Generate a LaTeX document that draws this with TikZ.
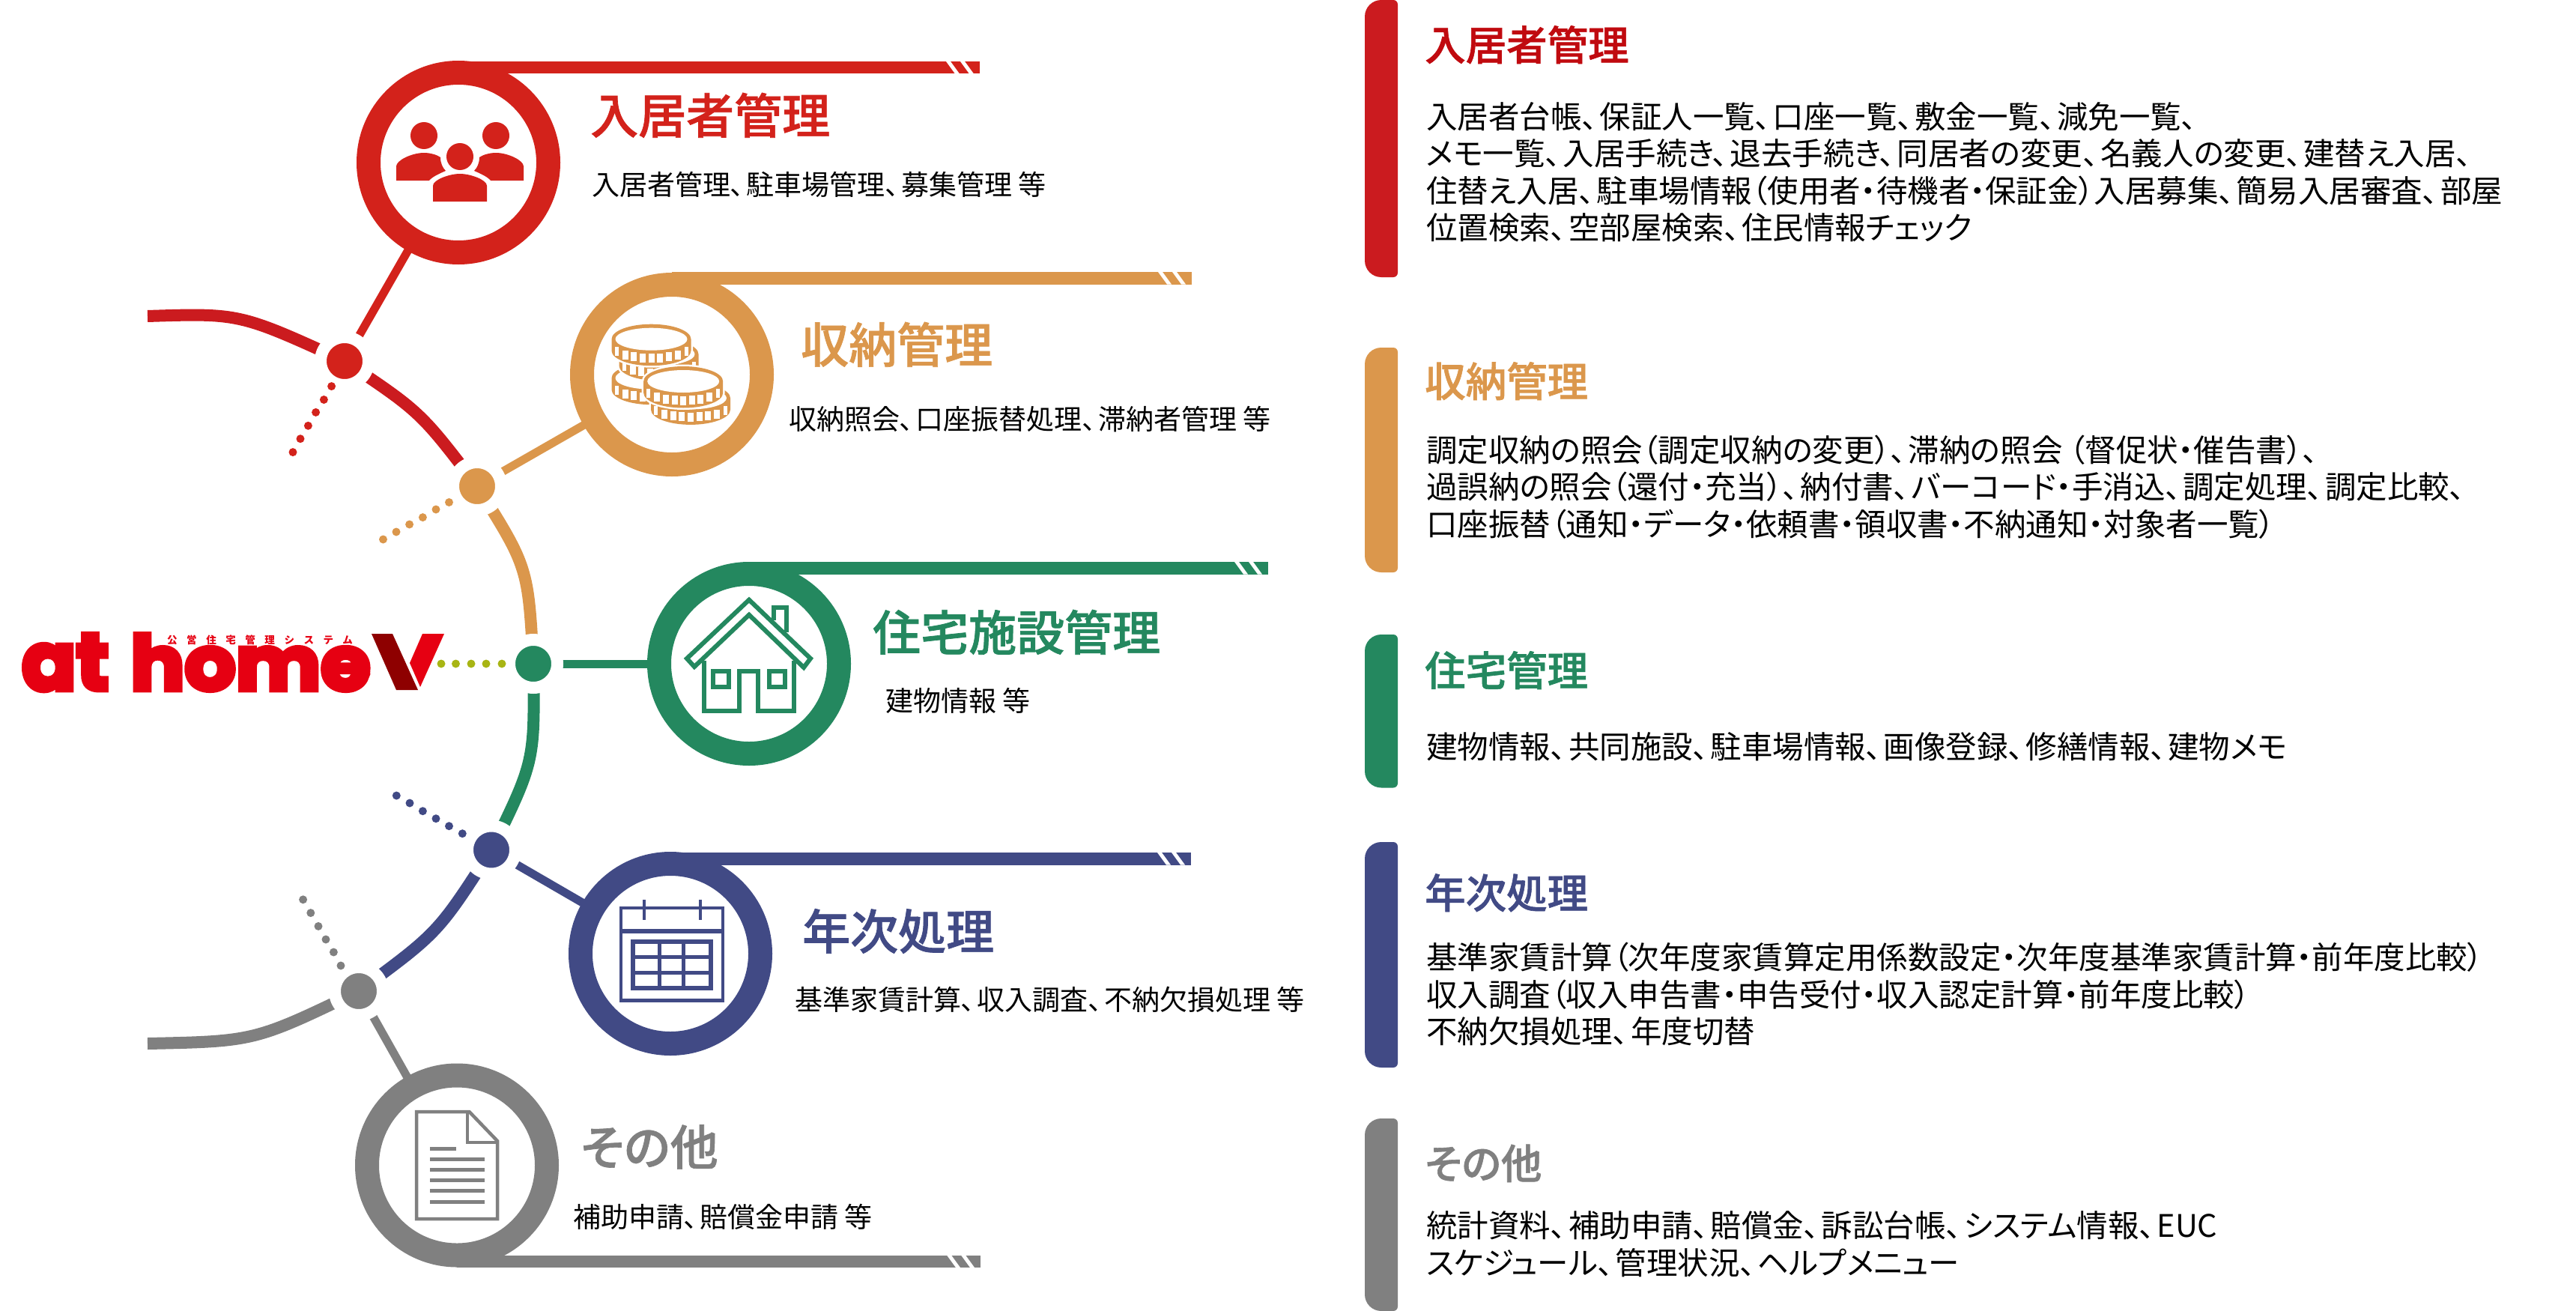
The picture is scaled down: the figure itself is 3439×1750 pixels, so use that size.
\documentclass[tikz,border=0pt]{standalone}
\usepackage{fontspec}
\usetikzlibrary{backgrounds}
\setmainfont{Noto Sans CJK JP}[RawFeature={+palt}]
\newfontfamily\titlefont{Noto Sans CJK JP Medium}[RawFeature={+palt},FakeBold=1.1]
\newfontfamily\logofont{Poppins}[FakeBold=6]
\newfontfamily\plaincjk{Noto Sans CJK JP}
\catcode`、=\active
\def、{\char"3001\kern3pt\relax}
\definecolor{cred}{HTML}{D3221B}
\definecolor{credb}{HTML}{CB1B1F}
\definecolor{credt}{HTML}{C00A0F}
\definecolor{corange}{HTML}{DB974C}
\definecolor{cgreen}{HTML}{24885F}
\definecolor{cnavy}{HTML}{414A85}
\definecolor{cgray}{HTML}{808080}
\definecolor{colive}{HTML}{A8B514}
\definecolor{clogo}{HTML}{E60012}
\definecolor{clogod}{HTML}{8E0000}
\newcommand{\bl}{\rule{0pt}{.88em}}
\newcommand{\tailbar}[4]{%
  \fill[#4] (#1,#2) rectangle (#3,#2+16.5);
  \fill[white] ({#3-45},#2) -- ({#3-39},#2) -- ({#3-27},#2+16.5) -- ({#3-33},#2+16.5) -- cycle;
  \fill[white] ({#3-26},#2) -- ({#3-20},#2) -- ({#3-8},#2+16.5) -- ({#3-14},#2+16.5) -- cycle;
}
\newcommand{\sidebar}[3]{%
  \fill[#3] (1844,#1) -- (1860,#1) arc (-90:0:6) -- (1866,#2-6) arc (0:90:6) -- (1844,#2) arc (90:180:22) -- (1822,#1+22) arc (180:270:22) -- cycle;
}
\newcommand{\coinicon}[2]{%
  \begin{scope}[shift={(#1,#2)}]
    \fill[corange, preaction={draw=white,line width=5pt}] (53,0) -- (53,15.5) arc (0:180:53 and 20) -- (-53,0) arc (180:360:53 and 20) -- cycle;
    \fill[white] (0,0) ellipse (48 and 15);
    \foreach \dx in {-46.5,-35,-23.2,-11.6,0,11.6,23.2,35,46.5}{%
      \pgfmathsetmacro{\cy}{9+16.5*sqrt(1-(\dx/52)^2)}
      \pgfmathsetmacro{\hw}{abs(\dx)>40?2.5:4}
      \fill[white] ({\dx-\hw},{\cy-6}) rectangle ({\dx+\hw},{\cy+6});
    }
  \end{scope}
}
\tikzset{
  bigring/.style={circle,draw=#1,fill=white,line width=32pt,minimum size=240pt,inner sep=0pt,outer sep=0pt},
  hub/.style={circle,draw=white,fill=#1,line width=16pt,minimum size=64pt,inner sep=0pt,outer sep=0pt},
  link/.style={draw=#1,line width=11pt},
  arcline/.style={draw=#1,line width=16pt},
  lefttitle/.style={anchor=west,inner sep=0pt,text=#1,font=\titlefont\fontsize{64}{70}\selectfont,text height=56.3pt,text depth=7.7pt},
  righttitle/.style={anchor=west,inner sep=0pt,text=#1,font=\titlefont\fontsize{54.5}{60}\selectfont,text height=47.5pt,text depth=6.5pt},
  subtext/.style={anchor=west,inner sep=0pt,font=\fontsize{37}{40}\selectfont,text height=32pt,text depth=4.4pt},
  bodytext/.style={anchor=north west,inner sep=0pt,align=left,font=\fontsize{41.5}{49.6}\selectfont},
  dotmark/.style={fill=#1},
  iconline/.style={draw=#1,line width=6pt,miter limit=10}
}
\begin{document}
\begin{tikzpicture}[x=1pt,y=-1pt]
\useasboundingbox (0,0) rectangle (3439,1750);
% hubs and rings
\node[hub=cred] (rn) at (460,482) {};
\node[hub=corange] (on) at (637,649) {};
\node[hub=cgreen] (gn) at (712,886) {};
\node[hub=cnavy] (yn) at (656,1134.5) {};
\node[hub=cgray] (sn) at (479,1323) {};
\node[bigring=cred] (rc) at (612,217) {};
\node[bigring=corange] (oc) at (897,500) {};
\node[bigring=cgreen] (gc) at (1000,886) {};
\node[bigring=cnavy] (yc) at (895,1273) {};
\node[bigring=cgray] (sc) at (610,1555.5) {};
\coordinate (redfree) at (197,422);
\coordinate (grayfree) at (197,1393);
\begin{scope}[on background layer]
  \tailbar{612}{82}{1308}{cred}
  \tailbar{897}{363}{1591}{corange}
  \tailbar{1000}{750}{1693}{cgreen}
  \tailbar{895}{1138}{1590}{cnavy}
  \tailbar{610}{1675.5}{1309}{cgray}
  \path[link=cred] (rn) -- (rc);
  \path[link=corange] (on) -- (oc);
  \path[link=cgreen] (gn) -- (gc);
  \path[link=cnavy] (yn) -- (yc);
  \path[link=cgray] (sn) -- (sc);
  \path[arcline=credb] (redfree) .. controls (320,418) .. (rn.center);
  \path[arcline=credb] (rn.center) .. controls (561.5,550) .. (on.center);
  \path[arcline=corange] (on.center) .. controls (705,757) .. (gn.center);
  \path[arcline=cgreen] (gn.center) .. controls (714,1016) .. (yn.center);
  \path[arcline=cnavy] (yn.center) .. controls (585,1245) .. (sn.center);
  \path[arcline=cgray] (sn.center) .. controls (340,1390) .. (grayfree);
\end{scope}
% dots
\foreach \p in {(442.6,515.6),(432.4,533.5),(421.6,550.4),(411.4,568.3),(401,585.7),(391,603.6)} \fill[dotmark=cred] \p circle (5.5);
\foreach \p in {(599.5,670.5),(582,680),(564.4,690.6),(546.6,700),(529,710),(511.5,720)} \fill[dotmark=corange] \p circle (5.5);
\foreach \p in {(589,886),(608.5,886),(629,886),(649,886),(670,886)} \fill[dotmark=colive] \p circle (5.5);
\foreach \p in {(617.3,1112.7),(599.5,1102.7),(582,1092.7),(564.4,1082.7),(547,1072),(529.3,1062)} \fill[dotmark=cnavy] \p circle (5.5);
\foreach \p in {(455,1289),(445.4,1271),(435,1254),(425,1236.4),(414.8,1218.6),(404.6,1200.8)} \fill[dotmark=cgray] \p circle (5.5);
% logo
\node[inner sep=0pt,anchor=north west,text=clogo] (logoat) at (29,846) {\resizebox{116pt}{75pt}{\logofont\bfseries at}};
\node[inner sep=0pt,anchor=north west,text=clogo] (logohome) at (174,846) {\resizebox{320pt}{75pt}{\logofont\bfseries home}};
\node[inner sep=0pt,anchor=west,text=clogo] (logosub) at (223,854) {\plaincjk\fontsize{13.5}{15}\selectfont\addfontfeature{LetterSpace=93}\bfseries 公営住宅管理システム};
\fill[clogod] (496,846) -- (524,846) -- (558,921) -- (529,921) -- cycle;
\fill[clogo] (564,846) -- (593,846) -- (561,917) -- (547,885) -- cycle;
% people icon
\fill[cred] (566,181) circle (18);
\fill[cred] (662,181) circle (18);
\fill[cred] (614,209) circle (18);
\fill[cred] (529,241) -- (529,222) .. controls (529,214) and (550,204) .. (566,204) .. controls (575,204) and (584,207) .. (588,210) .. controls (588,218) and (591,224) .. (595,228) .. controls (586,232) and (577,236) .. (573,241) -- cycle;
\fill[cred] (699,241) -- (699,222) .. controls (699,214) and (678,204) .. (662,204) .. controls (653,204) and (644,207) .. (640,210) .. controls (640,218) and (637,224) .. (633,228) .. controls (642,232) and (651,236) .. (655,241) -- cycle;
\fill[cred] (578,269) -- (578,248) .. controls (578,240) and (600,232) .. (614,232) .. controls (628,232) and (650,240) .. (650,248) -- (650,269) -- cycle;
% coins icon
\coinicon{869.5}{504.7}
\coinicon{879.5}{472.7}
\coinicon{869.5}{452.7}
\coinicon{922}{531.4}
\coinicon{912.2}{509}
% house icon
\draw[iconline=cgreen] (1000,800.7) -- (1082,879) -- (1073,891) -- (1000,820.7) -- (927,890) -- (917,879) -- cycle;
\draw[iconline=cgreen] (1033,828) -- (1033,811) -- (1050,811) -- (1050,844);
\draw[iconline=cgreen] (939.7,881.7) -- (939.7,948.7) -- (987.3,948.7) -- (987.3,896.3) -- (1012.3,896.3) -- (1012.3,948.7) -- (1060.3,948.7) -- (1060.3,881.7);
\draw[iconline=cgreen] (952,896.3) rectangle (973,917.3);
\draw[iconline=cgreen] (1027,896.3) rectangle (1048,917.3);
% calendar icon
\draw[cnavy,line width=4.5pt] (829,1212) rectangle (965,1335.5);
\fill[cnavy] (829,1240) rectangle (965,1246);
\fill[cnavy] (858,1201) rectangle (862,1228);
\fill[cnavy] (932.5,1201) rectangle (936.5,1228);
\draw[cnavy,line width=5.5pt] (845,1257) rectangle (949,1319);
\draw[cnavy,line width=5pt] (880,1257) -- (880,1319) (912,1257) -- (912,1319) (845,1277) -- (949,1277) (845,1298) -- (949,1298);
% document icon
\draw[cgray,line width=4.5pt] (556,1484) -- (626.5,1484) -- (664,1523) -- (664,1627) -- (556,1627) -- cycle;
\draw[cgray,line width=4.5pt] (624,1484) -- (624,1525) -- (664,1525);
\draw[cgray,line width=5pt] (574,1533) -- (609,1533);
\foreach \ly in {1547,1561,1575,1589,1604} \draw[cgray,line width=5pt] (574,\ly) -- (647,\ly);
% left labels
\node[lefttitle=cred] (t1) at (788,154) {入居者管理};
\node[subtext] (s1) at (790,246.5) {入居者管理、駐車場管理、募集管理 等};
\node[lefttitle=corange] (t2) at (1069,460) {収納管理};
\node[subtext] (s2) at (1053,560) {収納照会、口座振替処理、滞納者管理 等};
\node[lefttitle=cgreen] (t3) at (1165,844) {住宅施設管理};
\node[subtext] (s3) at (1182,936) {建物情報 等};
\node[lefttitle=cnavy] (t4) at (1071,1243) {年次処理};
\node[subtext] (s4) at (1061,1335) {基準家賃計算、収入調査、不納欠損処理 等};
\node[lefttitle=cgray] (t5) at (775,1531) {その他};
\node[subtext] (s5) at (765,1625) {補助申請、賠償金申請 等};
% right column
\sidebar{0}{370}{credb}
\sidebar{464}{764}{corange}
\sidebar{847}{1051.5}{cgreen}
\sidebar{1124}{1425}{cnavy}
\sidebar{1493}{1750}{cgray}
\node[righttitle=credt] (r1) at (1902,60) {入居者管理};
\node[bodytext] (b1) at (1904,134.4) {\bl 入居者台帳、保証人一覧、口座一覧、敷金一覧、減免一覧、\\メモ一覧、入居手続き、退去手続き、同居者の変更、名義人の変更、建替え入居、\\住替え入居、駐車場情報（使用者・待機者・保証金）入居募集、簡易入居審査、部屋\\位置検索、空部屋検索、住民情報チェック};
\node[righttitle=corange] (r2) at (1902,509) {収納管理};
\node[bodytext] (b2) at (1904,579.3) {\bl 調定収納の照会（調定収納の変更）、滞納の照会 （督促状・催告書）、\\過誤納の照会（還付・充当）、納付書、バーコード・手消込、調定処理、調定比較、\\口座振替（通知・データ・依頼書・領収書・不納通知・対象者一覧）};
\node[righttitle=cgreen] (r3) at (1902,895) {住宅管理};
\node[bodytext] (b3) at (1904,975.8) {\bl 建物情報、共同施設、駐車場情報、画像登録、修繕情報、建物メモ};
\node[righttitle=cnavy] (r4) at (1902,1192) {年次処理};
\node[bodytext] (b4) at (1904,1256.8) {\bl 基準家賃計算（次年度家賃算定用係数設定・次年度基準家賃計算・前年度比較）\\収入調査（収入申告書・申告受付・収入認定計算・前年度比較）\\不納欠損処理、年度切替};
\node[righttitle=cgray] (r5) at (1902,1553) {その他};
\node[bodytext] (b5) at (1904,1614.8) {\bl 統計資料、補助申請、賠償金、訴訟台帳、システム情報、EUC\\スケジュール、管理状況、ヘルプメニュー};
\end{tikzpicture}
\end{document}
